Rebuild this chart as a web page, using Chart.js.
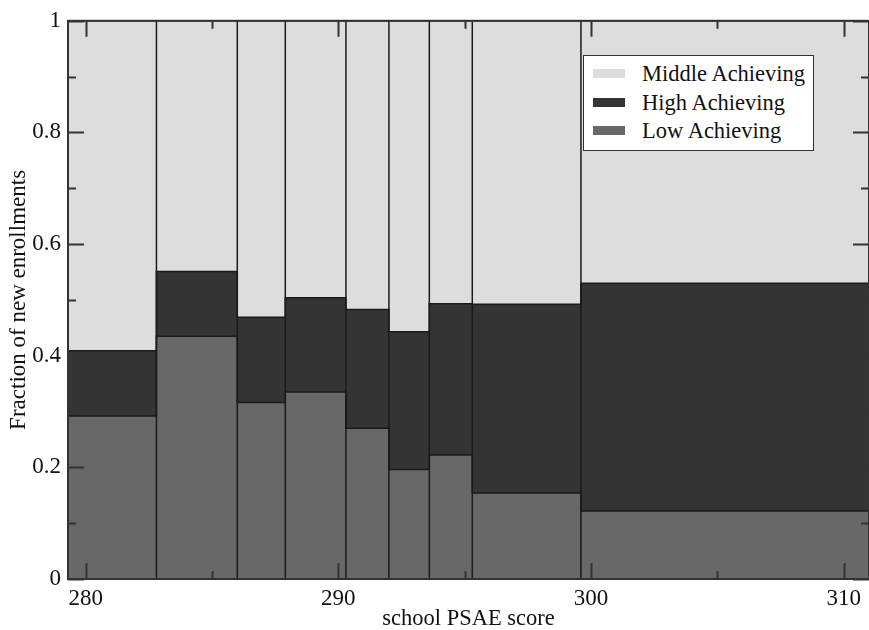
<!DOCTYPE html>
<html>
<head>
<meta charset="utf-8">
<script src="https://cdn.jsdelivr.net/npm/chart.js@4.4.1/dist/chart.umd.min.js"></script>
<style>
  html, body { margin: 0; padding: 0; background: #fff; }
  #wrap { position: relative; width: 869px; height: 630px; }
  #legend {
    position: absolute; left: 583px; top: 55px; width: 229px; height: 94px;
    background: #fff; border: 1.5px solid #333;
    font-family: "Liberation Serif", "DejaVu Serif", serif; font-size: 22.5px; color: #111;
  }
  #legend .row { position: absolute; left: 9px; height: 24px; line-height: 24px; white-space: nowrap; }
  #legend .sw { display: inline-block; width: 32px; height: 9px; vertical-align: middle; margin-right: 17px; position: relative; top: -2px; }
</style>
</head>
<body>
<div id="wrap">
  <canvas id="chart" width="869" height="630"></canvas>
  <div id="legend"></div>
</div>
<script>
// bin edges along school PSAE score
const edges = [279.3, 282.8, 286.0, 287.9, 290.3, 292.0, 293.6, 295.3, 299.6, 311.0];
// fraction of new enrollments in each bin
const lowFrac    = [0.292, 0.435, 0.316, 0.335, 0.270, 0.196, 0.222, 0.154, 0.122];
const highFrac   = [0.117, 0.116, 0.153, 0.169, 0.213, 0.247, 0.271, 0.338, 0.408];
const middleFrac = [0.591, 0.449, 0.531, 0.496, 0.517, 0.557, 0.507, 0.508, 0.470];

const xTicks = [280, 290, 300, 310];
const yTicks = [0, 0.2, 0.4, 0.6, 0.8, 1];

const colors = { low: '#686868', high: '#343434', middle: '#dddddd' };
const serif = '"Liberation Serif", "DejaVu Serif", serif';

// stacked tops per bin
const cumLow = lowFrac.slice();
const cumHigh = lowFrac.map((v, i) => v + highFrac[i]);
const cumMid = cumHigh.map((v, i) => v + middleFrac[i]);

function steps(tops) {
  const pts = tops.map((v, i) => ({ x: edges[i], y: v }));
  pts.push({ x: edges[edges.length - 1], y: tops[tops.length - 1] });
  return pts;
}

// vertical separators between bins
const dividers = [];
edges.forEach(e => {
  dividers.push({ x: e, y: 0 }, { x: e, y: 1 }, { x: e, y: null });
});

function layer(label, tops, color, fill) {
  return {
    label,
    data: steps(tops),
    stepped: 'before',
    fill,
    backgroundColor: color,
    borderColor: '#1a1a1a',
    borderWidth: 1.5,
    pointRadius: 0,
    tension: 0
  };
}

// inward tick marks and plot frame
const frameTicks = {
  id: 'frameTicks',
  afterDatasetsDraw(chart) {
    const { ctx, chartArea: a, scales } = chart;
    ctx.save();
    ctx.strokeStyle = '#333';
    ctx.lineWidth = 2;
    ctx.beginPath();
    scales.x.ticks.forEach(t => {
      const px = Math.round(scales.x.getPixelForValue(t.value)) + 0.5;
      const len = t.value % 10 === 0 ? 16 : 8;
      ctx.moveTo(px, a.bottom); ctx.lineTo(px, a.bottom - len);
      ctx.moveTo(px, a.top); ctx.lineTo(px, a.top + len);
    });
    scales.y.ticks.forEach(t => {
      const py = Math.round(scales.y.getPixelForValue(t.value)) + 0.5;
      const len = Math.round(t.value * 10) % 2 === 0 ? 16 : 8;
      ctx.moveTo(a.left, py); ctx.lineTo(a.left + len, py);
      ctx.moveTo(a.right, py); ctx.lineTo(a.right - len, py);
    });
    ctx.stroke();
    ctx.strokeRect(a.left, a.top, a.right - a.left, a.bottom - a.top);
    ctx.restore();
  }
};

new Chart(document.getElementById('chart').getContext('2d'), {
  type: 'line',
  data: {
    datasets: [
      layer('Low Achieving', cumLow, colors.low, 'origin'),
      layer('High Achieving', cumHigh, colors.high, '-1'),
      layer('Middle Achieving', cumMid, colors.middle, '-1'),
      {
        label: 'dividers',
        data: dividers,
        order: -1,
        fill: false,
        borderColor: '#1a1a1a',
        borderWidth: 1.5,
        pointRadius: 0,
        spanGaps: false
      }
    ]
  },
  options: {
    responsive: false,
    animation: false,
    layout: { padding: { top: 15, right: 0, left: 0, bottom: 0 } },
    plugins: { legend: { display: false }, tooltip: { enabled: false } },
    scales: {
      x: {
        type: 'linear',
        min: edges[0],
        max: edges[edges.length - 1],
        afterBuildTicks: s => { s.ticks = [280, 285, 290, 295, 300, 305, 310].map(v => ({ value: v })); },
        afterFit: s => { s.height = 51; },
        grid: { display: false, drawTicks: false },
        border: { display: false },
        ticks: {
          padding: 6,
          maxRotation: 0,
          autoSkip: false,
          color: '#111',
          font: { family: serif, size: 23 },
          callback: v => xTicks.includes(v) ? String(v) : ''
        },
        title: {
          display: true, text: 'school PSAE score', color: '#111',
          font: { family: serif, size: 22.5, lineHeight: 1 }, padding: { top: 0, bottom: 0 }
        }
      },
      y: {
        min: 0,
        max: 1,
        afterBuildTicks: s => { s.ticks = [0, 0.1, 0.2, 0.3, 0.4, 0.5, 0.6, 0.7, 0.8, 0.9, 1].map(v => ({ value: v })); },
        afterFit: s => { s.width = 68; },
        grid: { display: false, drawTicks: false },
        border: { display: false },
        ticks: {
          padding: 7,
          autoSkip: false,
          color: '#111',
          font: { family: serif, size: 23 },
          callback: v => {
            const r = Math.round(v * 10);
            return yTicks.includes(r / 10) ? String(r / 10) : '';
          }
        },
        title: {
          display: true, text: 'Fraction of new enrollments', color: '#111',
          font: { family: serif, size: 23 }, padding: { top: 5, bottom: 0 }
        }
      }
    }
  },
  plugins: [frameTicks]
});

// legend inside plot, top to bottom as in the figure
const legendItems = [
  ['Middle Achieving', colors.middle],
  ['High Achieving', colors.high],
  ['Low Achieving', colors.low]
];
const legendEl = document.getElementById('legend');
legendItems.forEach(([name, c], i) => {
  const row = document.createElement('div');
  row.className = 'row';
  row.style.top = (6 + i * 28.5) + 'px';
  row.innerHTML = '<span class="sw" style="background:' + c + '"></span>' + name;
  legendEl.appendChild(row);
});
</script>
</body>
</html>
